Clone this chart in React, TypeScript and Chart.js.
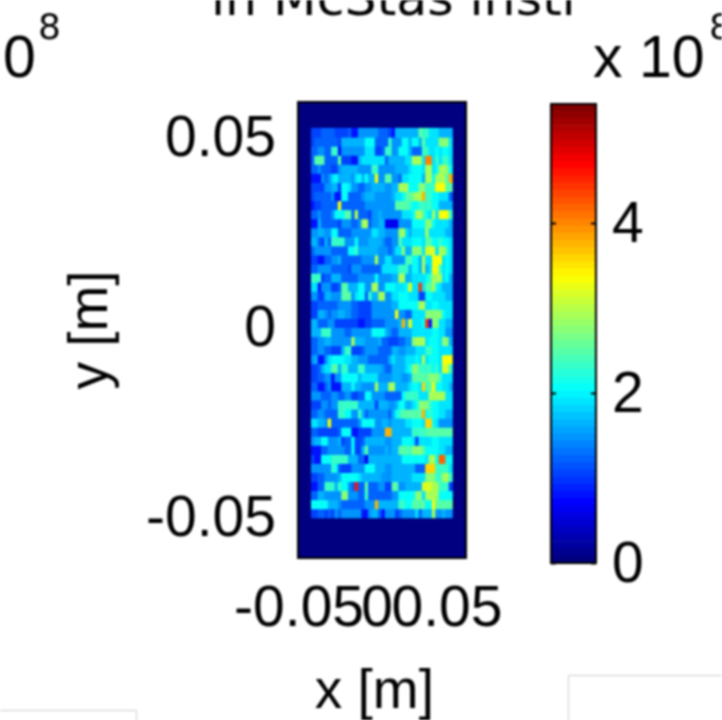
import React, { useEffect, useRef } from "react";
import { Chart, registerables } from "chart.js";

Chart.register(...registerables);

// Axis ranges and ticks (metres)
const axisRange = 0.06;
const xTicks = [-0.05, 0, 0.05];
const yTicks = [-0.05, 0, 0.05];
const colorTicks = [0, 2, 4];
const colorMax = 5.4;
const colorLevels = 64;

// Detector cells. Top row first, left column first.
// Each character is a base-36 digit, in units of 0.21 x 10^8.
const heatLeft = -0.0505;
const cellWidth = 0.0024;
const heatTop = 0.0531;
const cellHeight = 0.002385;
const heatRows = [
  "555666 655556 447777 776665 488888 88cbb9 998888",
  "566666 665888 8888aa a6666b 777aa8 aa8c99 99ddd9",
  "667766 bb4777 777799 9556bb 77aaa8 666bb9 9a9aa9",
  "6ccc66 66c555 448999 999968 888899 eee9jj 9b9bb9",
  "667666 557888 887777 bb7777 788889 aaa9ee 9aeeda",
  "444767 9a8888 79a8a8 8g77cc 77699a aaa8ee aeeeci",
  "555577 885aa9 776677 888877 88eeea aaddbb bgggcc",
  "566666 744aa6 666788 877777 899acc deeibb aa9996",
  "455666 66g666 666677 777777 7ccccb aabbbb aa8888",
  "667666 7aaacc 6e6665 778777 777999 aeeca9 e9gggb",
  "448666 665777 667ee6 778833 337777 aaaadd a99998",
  "778877 aa6666 777777 998877 77de98 9999e9 999988",
  "886586 bbbb77 7a7778 888766 77c999 aaa9cc aabaa9",
  "677777 66666a ab8888 887776 799d88 ddd9ff f9eeb9",
  "554466 778666 666777 7e7799 7777bc aa8e99 ggg9a9",
  "667777 666665 777666 666999 99bbb8 aa8e89 ggb9a9",
  "bbb566 888666 667777 7a7777 88ee88 9999ab eee9a8",
  "994777 556cc8 88aa77 ee77aa a999ag 99l9cc ea9888",
  "775588 777ccc 79aa6b 88ee77 99aaa9 9955aa 999988",
  "556666 667777 665555 777777 88aaaa aaee99 aa9999",
  "558876 778877 665555 777777 7g7766 9999dd ddda99",
  "886667 755555 554455 666677 778i8g 999al4 dd9988",
  "888bbb 777766 777777 aaaa87 668888 999999 aa9977",
  "667788 777777 e88877 778665 556677 deee9a aa9dd8",
  "667766 5558bb 555677 776666 887788 8999bb aa9999",
  "784479 aaaa99 887776 666668 988899 9a9e9a aa9ggg",
  "556899 cc8bb8 88bb88 888766 88889a ddbbbb ab9ffb",
  "556677 477aaa aa8999 997777 888778 cccccd ddb999",
  "664467 444888 a88777 7e888e e88889 aa9hbc gaa998",
  "777666 776677 5566aa 777766 666abb bb999e eeee99",
  "555776 77bbbb bb8888 858887 78aa88 9adddb aa9999",
  "667766 66bbaa 77b867 777776 8abccc ccciab aa9988",
  "99887g 666666 667aaa a77887 888899 aaa9hh a97777",
  "665555 556aaa 445555 7777ii 888888 bbbbcc cccccc",
  "788aa7 778566 a55688 888877 888aaa 959999 aa9999",
  "444667 777766 a558c7 777787 88cccb dddcaa aa9988",
  "544aaa bbbbb8 886638 888888 888aaa aaaa9e eakkaa",
  "777777 ba6555 7777aa a88877 888888 8666hh hbbbb9",
  "556677 778aaa aa9888 888777 888888 9999dd dbbeeb",
  "4466bb b8baa7 6m66c6 667755 cc7788 888fff eebbb5",
  "668877 777dd7 7766b6 666666 77aaaa add9ee eeaaaa",
  "aaaaa8 887666 666677 7i8888 88bbaa ccccaa gccccc",
  "556656 576777 777447 886477 756777 796888 e77877",
];
const cellUnit = 0.21;

// Text in the picture
const yTitle = "y [m]";
const xTitle = "x [m] ";
const panelTitle = "in McStas instr";
const leftBase = "0";
const exponent = "8";
const colorbarBase = "x 10";

const LABEL_FONT = "'Liberation Sans', Arial, sans-serif";
const TITLE_FONT = "'DejaVu Sans', Verdana, sans-serif";

function jet(t: number): string {
  const c = Math.max(0, Math.min(1, t));
  const ch = (v: number) => Math.round(255 * Math.max(0, Math.min(1, v)));
  const r = 1.5 - Math.abs(4 * c - 3);
  const g = 1.5 - Math.abs(4 * c - 2);
  const b = 1.5 - Math.abs(4 * c - 1);
  return `rgb(${ch(r)},${ch(g)},${ch(b)})`;
}

function levelColor(value: number): string {
  const level = Math.min(colorLevels - 1, Math.floor((value / colorMax) * colorLevels));
  return jet(level / (colorLevels - 1));
}

const heatValues: number[][] = heatRows.map((row) =>
  row.replace(/ /g, "").split("").map((ch) => parseInt(ch, 36) * cellUnit)
);

function makeHeatDatasets() {
  return heatValues.map((row, r) => {
    const top = heatTop - r * cellHeight;
    return {
      data: row.map((_v, c) => ({
        x: heatLeft + (c + 0.5) * cellWidth,
        y: [top - cellHeight, top],
      })),
      backgroundColor: row.map((v) => levelColor(v)),
      borderWidth: 0,
      barPercentage: 1,
      categoryPercentage: 1,
      grouped: false,
    };
  });
}

const frameAndText = {
  id: "frameAndText",
  beforeDatasetsDraw(chart: any) {
    const { ctx, chartArea: a } = chart;
    ctx.save();
    ctx.fillStyle = jet(0);
    ctx.fillRect(a.left, a.top, a.width, a.height);
    ctx.restore();
  },
  afterDraw(chart: any) {
    const { ctx, chartArea: a } = chart;
    ctx.save();
    ctx.strokeStyle = "#000";
    ctx.lineWidth = 2;
    ctx.strokeRect(a.left, a.top, a.width, a.height);

    ctx.fillStyle = "#000";
    ctx.textBaseline = "alphabetic";
    ctx.textAlign = "left";
    ctx.font = `50.5px ${TITLE_FONT}`;
    ctx.fillText(panelTitle, 211, 15);
    ctx.font = `59px ${LABEL_FONT}`;
    ctx.fillText(leftBase, 3, 77);
    ctx.fillText(colorbarBase, 593, 77);
    ctx.font = `36px ${TITLE_FONT}`;
    ctx.fillText(exponent, 38, 39);
    ctx.fillText(exponent, 709, 39);

    ctx.strokeStyle = "#cccccc";
    ctx.lineWidth = 1;
    ctx.beginPath();
    ctx.moveTo(0, 710.5);
    ctx.lineTo(136.5, 710.5);
    ctx.lineTo(136.5, 720);
    ctx.moveTo(722, 675.5);
    ctx.lineTo(568.5, 675.5);
    ctx.lineTo(568.5, 720);
    ctx.stroke();
    ctx.restore();
  },
};

const colorbarFrame = {
  id: "colorbarFrame",
  afterDraw(chart: any) {
    const { ctx, chartArea: a, scales } = chart;
    ctx.save();
    ctx.strokeStyle = "#000";
    ctx.lineWidth = 2;
    ctx.strokeRect(a.left, a.top, a.width, a.height);
    colorTicks.forEach((v) => {
      const y = Math.round(scales.y.getPixelForValue(v)) + 0.5;
      ctx.beginPath();
      ctx.moveTo(a.left, y);
      ctx.lineTo(a.left + 5, y);
      ctx.moveTo(a.right - 5, y);
      ctx.lineTo(a.right, y);
      ctx.stroke();
    });
    ctx.restore();
  },
};

const canvasStyle: React.CSSProperties = {
  position: "absolute",
  left: 0,
  top: 0,
  display: "block",
  filter: "blur(0.9px)",
};

export default function App() {
  const mainRef = useRef<HTMLCanvasElement>(null);
  const barRef = useRef<HTMLCanvasElement>(null);

  useEffect(() => {
    const tickFont = { family: LABEL_FONT, size: 57, lineHeight: 1 };
    const titleFont = { family: LABEL_FONT, size: 55, lineHeight: 1 };
    const main = new Chart(mainRef.current!, {
      type: "bar",
      data: { datasets: makeHeatDatasets() as any },
      plugins: [frameAndText],
      options: {
        responsive: false,
        animation: false,
        events: [],
        layout: { padding: { top: 102, right: 256, left: 0, bottom: 0 } },
        plugins: { legend: { display: false }, tooltip: { enabled: false } },
        scales: {
          x: {
            type: "linear",
            offset: false,
            min: -axisRange,
            max: axisRange,
            grid: { display: false, drawTicks: false, offset: false },
            border: { display: false },
            afterBuildTicks: (s: any) => {
              s.ticks = xTicks.map((value) => ({ value }));
            },
            afterFit: (s: any) => {
              s.height = 162;
            },
            ticks: {
              autoSkip: false,
              maxRotation: 0,
              minRotation: 0,
              padding: 24,
              labelOffset: -5,
              color: "#000",
              font: tickFont,
              callback: (v: any) => (v < 0 ? `${v} ` : String(v)),
            },
            title: {
              display: true,
              text: xTitle,
              color: "#000",
              font: titleFont,
              padding: { top: 0, bottom: 0 },
            },
          },
          y: {
            type: "linear",
            min: -axisRange,
            max: axisRange,
            grid: { display: false, drawTicks: false },
            border: { display: false },
            afterBuildTicks: (s: any) => {
              s.ticks = yTicks.map((value) => ({ value }));
            },
            afterFit: (s: any) => {
              s.width = 298;
            },
            ticks: {
              autoSkip: false,
              padding: 22,
              color: "#000",
              font: tickFont,
              callback: (v: any) => String(v),
            },
            title: {
              display: true,
              text: yTitle,
              color: "#000",
              font: titleFont,
              padding: { top: 64, bottom: 0 },
            },
          },
        },
      },
    } as any);

    const levels = Array.from({ length: colorLevels }, (_v, i) => i);
    const bar = new Chart(barRef.current!, {
      type: "bar",
      data: {
        labels: ["colorbar"],
        datasets: levels.map((i) => ({
          data: [[(i * colorMax) / colorLevels, ((i + 1) * colorMax) / colorLevels]],
          backgroundColor: jet(i / (colorLevels - 1)),
          borderWidth: 0,
          barPercentage: 1,
          categoryPercentage: 1,
          grouped: false,
        })) as any,
      },
      plugins: [colorbarFrame],
      options: {
        responsive: false,
        animation: false,
        events: [],
        layout: { padding: { top: 104, left: 551, right: 0, bottom: 157 } },
        plugins: { legend: { display: false }, tooltip: { enabled: false } },
        scales: {
          x: { display: false },
          y: {
            position: "right",
            min: 0,
            max: colorMax,
            grid: { display: false, drawTicks: false },
            border: { display: false },
            afterBuildTicks: (s: any) => {
              s.ticks = colorTicks.map((value) => ({ value }));
            },
            afterFit: (s: any) => {
              s.width = 126;
            },
            ticks: {
              autoSkip: false,
              padding: 16,
              labelOffset: 3,
              color: "#000",
              font: tickFont,
              callback: (v: any) => String(v),
            },
          },
        },
      },
    } as any);

    return () => {
      main.destroy();
      bar.destroy();
    };
  }, []);

  return (
    <div>
      <canvas ref={mainRef} width={722} height={720} style={canvasStyle} />
      <canvas ref={barRef} width={722} height={720} style={canvasStyle} />
    </div>
  );
}
